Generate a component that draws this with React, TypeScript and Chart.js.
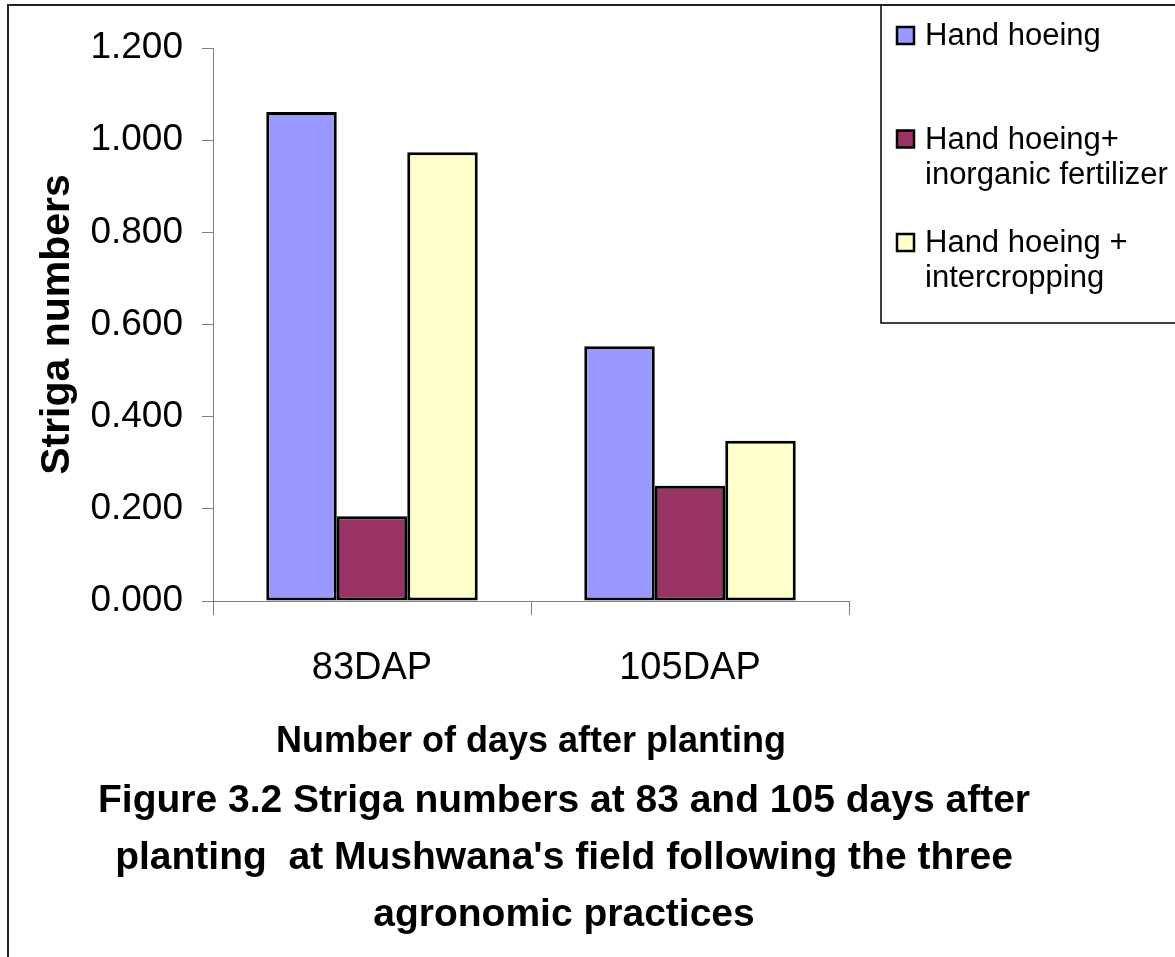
import React, { useEffect, useRef } from "react";
import { Chart, registerables } from "chart.js";

Chart.register(...registerables);

const categories = ["83DAP", "105DAP"];
const handHoeing = [1.061, 0.553];
const handHoeingFertilizer = [0.184, 0.25];
const handHoeingIntercropping = [0.974, 0.348];
const seriesLines = [
  ["Hand hoeing"],
  ["Hand hoeing+", "inorganic fertilizer"],
  ["Hand hoeing +", "intercropping"],
];
const seriesColors = ["#9999FF", "#993366", "#FFFFCC"];
const yTicks = [0, 0.2, 0.4, 0.6, 0.8, 1.0, 1.2];
const yTitle = "Striga numbers";
const xTitle = "Number of days after planting";
const titleLines = [
  "Figure 3.2 Striga numbers at 83 and 105 days after",
  "planting  at Mushwana's field following the three",
  "agronomic practices",
];

const FONT = "'Liberation Sans', Arial, sans-serif";

const framePlugin = {
  id: "frameLegend",
  afterDraw(chart: any) {
    const ctx = chart.ctx as CanvasRenderingContext2D;
    ctx.save();
    // outer chart border (left & top visible)
    ctx.strokeStyle = "#222";
    ctx.lineWidth = 2;
    ctx.beginPath();
    ctx.moveTo(8, 957);
    ctx.lineTo(8, 5);
    ctx.lineTo(1175, 5);
    ctx.stroke();
    // legend box
    ctx.strokeStyle = "#000";
    ctx.lineWidth = 1.5;
    ctx.beginPath();
    ctx.moveTo(881, 5);
    ctx.lineTo(881, 323);
    ctx.lineTo(1175, 323);
    ctx.stroke();
    // legend items
    ctx.font = `31px ${FONT}`;
    ctx.textBaseline = "alphabetic";
    ctx.textAlign = "left";
    chart.data.datasets.forEach((ds: any, i: number) => {
      const base = 45 + i * 103.5;
      ctx.fillStyle = ds.backgroundColor;
      ctx.fillRect(897, base - 18, 17, 17);
      ctx.lineWidth = 2.5;
      ctx.strokeStyle = "#000";
      ctx.strokeRect(897, base - 18, 17, 17);
      ctx.fillStyle = "#000";
      (seriesLines[i] || []).forEach((line, j) => {
        ctx.fillText(line, 925, base + j * 35);
      });
    });
    ctx.restore();
  },
};

export default function App() {
  const ref = useRef<HTMLCanvasElement | null>(null);

  useEffect(() => {
    if (!ref.current) return;
    const series = [handHoeing, handHoeingFertilizer, handHoeingIntercropping];
    const chart = new Chart(ref.current, {
      type: "bar",
      data: {
        labels: categories,
        datasets: series.map((d, i) => ({
          label: seriesLines[i].join(" "),
          data: d,
          yAxisID: "y",
          backgroundColor: seriesColors[i],
          borderColor: "#000",
          borderWidth: 3,
          borderSkipped: false,
          categoryPercentage: 0.665,
          barPercentage: 1,
        })),
      },
      options: {
        animation: false,
        responsive: false,
        devicePixelRatio: 1,
        layout: { padding: { left: 8, right: 55, top: 48, bottom: 13 } },
        plugins: {
          legend: { display: false },
          tooltip: { enabled: false },
          title: {
            display: true,
            position: "bottom",
            text: titleLines,
            color: "#000",
            font: { family: FONT, size: 39, weight: "bold", lineHeight: 57 / 39 },
            padding: { top: 8.9, bottom: 0 },
          },
        },
        scales: {
          x: {
            grid: {
              offset: true,
              drawOnChartArea: false,
              drawTicks: true,
              tickLength: 14,
              color: "#808080",
            },
            border: { display: true, color: "#808080", width: 1 },
            ticks: {
              color: "#000",
              padding: 31,
              font: { family: FONT, size: 38, lineHeight: 1.2 },
            },
            title: {
              display: true,
              text: xTitle,
              color: "#000",
              font: { family: FONT, size: 36, weight: "bold", lineHeight: 1.2 },
              padding: { top: 0, bottom: 0 },
            },
            afterFit(s: any) {
              s.height = 163.1;
              s.paddingLeft = 0;
              s.paddingRight = 0;
            },
          },
          y: {
            position: "left",
            min: 0,
            max: 1.2,
            afterBuildTicks(s: any) {
              s.ticks = yTicks.map((v) => ({ value: v }));
            },
            grid: {
              drawOnChartArea: false,
              drawTicks: true,
              tickLength: 11,
              color: "#808080",
            },
            border: { display: true, color: "#808080", width: 1 },
            ticks: {
              color: "#000",
              padding: 19,
              font: { family: FONT, size: 37, lineHeight: 1.2 },
              callback: (v: any) => Number(v).toFixed(3),
            },
            title: {
              display: true,
              text: yTitle,
              color: "#000",
              font: { family: FONT, size: 41, weight: "bold", lineHeight: 1.2 },
              padding: { top: 24.8, bottom: 0 },
            },
            afterFit(s: any) {
              s.width = 205;
              s.paddingTop = 0;
              s.paddingBottom = 0;
            },
          },
          y2: {
            type: "linear",
            position: "right",
            display: true,
            grid: { display: false },
            border: { display: false },
            ticks: { display: false },
            afterFit(s: any) {
              s.width = 271;
              s.paddingTop = 0;
              s.paddingBottom = 0;
            },
          },
        },
      },
      plugins: [framePlugin],
    } as any);
    return () => chart.destroy();
  }, []);

  return (
    <div style={{ position: "absolute", left: 0, top: 0, width: 1175, height: 957, background: "#fff" }}>
      <canvas ref={ref} width={1175} height={957} />
    </div>
  );
}
